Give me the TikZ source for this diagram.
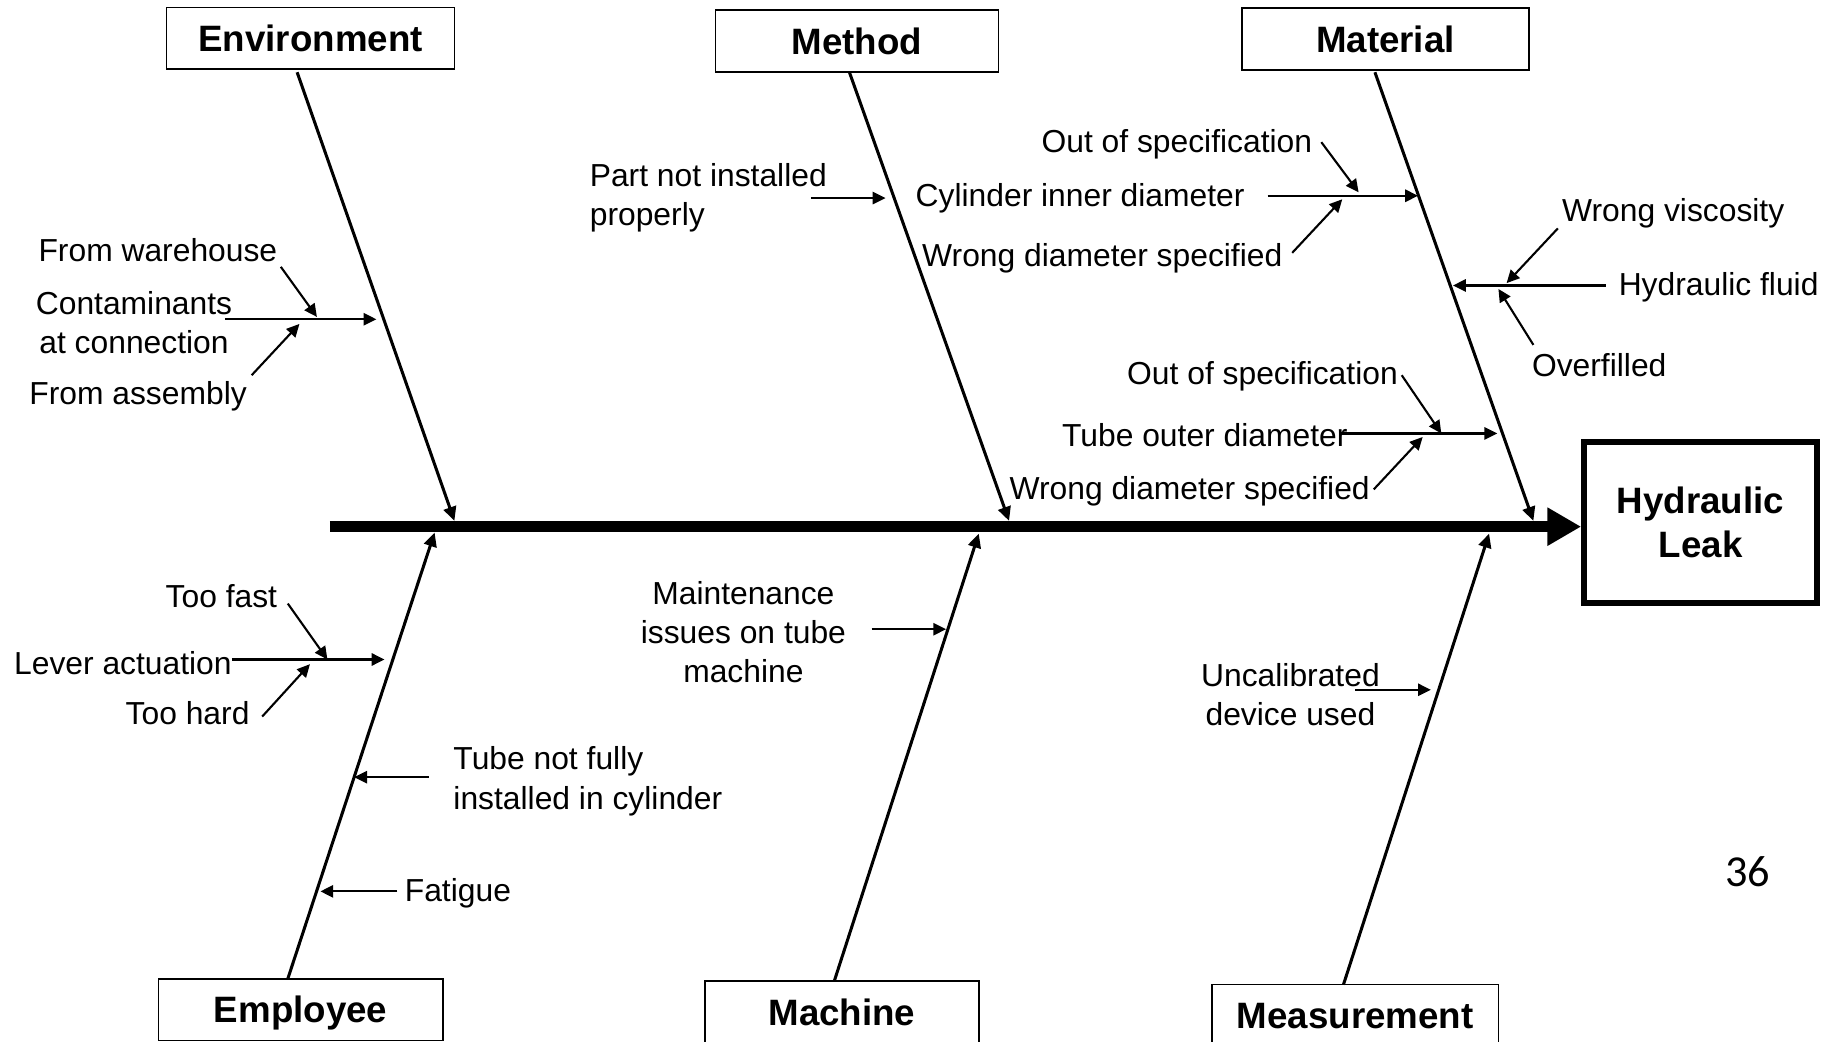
\documentclass[tikz,border=0pt]{standalone}
\usepackage{fontspec}
\setmainfont{Liberation Sans}
\newfontfamily\numfont{Carlito}
\usetikzlibrary{arrows.meta}
\begin{document}
\begin{tikzpicture}[x=1pt,y=-1pt,
 lbl/.style={font=\fontsize{27.3}{33.5}\selectfont, inner sep=0pt, text height=20pt, text depth=0pt},
 ml/.style={font=\fontsize{27.3}{33.5}\selectfont, inner sep=0pt},
 cat/.style={draw, line width=1.5pt, inner sep=0pt, minimum height=53pt, text depth=0pt, font=\bfseries\fontsize{31.5}{38}\selectfont},
 bone/.style={line width=2.6pt, -{Triangle[length=12pt,width=11pt]}},
 sub/.style={line width=1.8pt, -{Triangle[length=11pt,width=10.5pt]}}]
\useasboundingbox (0,0) rectangle (1568,894);

% categories
\node[cat, minimum width=247pt] (env) at (266.5,33) {Environment};
\node[cat, minimum width=243pt] (meth) at (735.5,35) {Method};
\node[cat, minimum width=246pt] (mat) at (1189,33.5) {Material};
\node[cat, minimum width=244pt] (emp) at (258,866.5) {Employee};
\node[cat, minimum width=235pt] (mach) at (722.5,868.5) {Machine};
\node[cat, minimum width=246pt] (meas) at (1163,871.5) {Measurement};
\node[draw, line width=5pt, minimum width=200pt, minimum height=138pt, inner sep=0pt, align=center,
      font=\bfseries\fontsize{31.5}{38}\selectfont] (eff) at (1459.5,448.5) {Hydraulic\\Leak};

% spine
\coordinate (spL) at (283,452);
\draw[line width=10pt, -{Triangle[length=29pt,width=31pt]}] (spL) -- (eff.west |- spL);

% bones
\coordinate (envT) at (255,62);   \coordinate (envE) at (390,447);
\coordinate (methT) at (729,62);  \coordinate (methE) at (866,447);
\coordinate (matT) at (1180,62);  \coordinate (matE) at (1316,447);
\coordinate (empT) at (247,840);  \coordinate (empE) at (373,457);
\coordinate (machT) at (716,842); \coordinate (machE) at (840,458);
\coordinate (measT) at (1153,845);\coordinate (measE) at (1278,458);
\draw[bone] (envT) -- (envE);
\draw[bone] (methT) -- (methE);
\draw[bone] (matT) -- (matE);
\draw[bone] (empT) -- (empE);
\draw[bone] (machT) -- (machE);
\draw[bone] (measT) -- (measE);

% Environment causes
\node[lbl] (fw) at (135.5,214) {From warehouse};
\node[ml, align=center] (cont) at (115,276.5) {Contaminants\\at connection};
\node[lbl] (fa) at (118.5,337) {From assembly};
\coordinate (contS) at (193,274); \coordinate (contE) at (323,274);
\coordinate (fwS) at (241,229);   \coordinate (fwE) at (272,272);
\coordinate (faS) at (216,322);   \coordinate (faE) at (257,278);
\draw[sub] (contS) -- (contE);
\draw[sub] (fwS) -- (fwE);
\draw[sub] (faS) -- (faE);

% Method causes
\node[ml, align=left, anchor=west] (pni) at (506,170) {Part not installed\\properly};
\coordinate (pniS) at (696,170); \coordinate (pniE) at (760,170);
\draw[sub] (pniS) -- (pniE);

% Material causes
\node[lbl] (oos1) at (1010,121) {Out of specification};
\node[lbl] (cid) at (927,167) {Cylinder inner diameter};
\node[lbl] (wds1) at (946,219) {Wrong diameter specified};
\coordinate (cidS) at (1088,168); \coordinate (cidE) at (1217,168);
\coordinate (oos1S) at (1134,122); \coordinate (oos1E) at (1166,165);
\coordinate (wds1S) at (1109,217); \coordinate (wds1E) at (1152,171);
\draw[sub] (cidS) -- (cidE);
\draw[sub] (oos1S) -- (oos1E);
\draw[sub] (wds1S) -- (wds1E);

\node[lbl] (wv) at (1436,180) {Wrong viscosity};
\node[lbl] (hf) at (1475,244) {Hydraulic fluid};
\node[lbl] (ovf) at (1372.5,313) {Overfilled};
\coordinate (hfS) at (1378,245); \coordinate (hfE) at (1247,245);
\coordinate (wvS) at (1337,196); \coordinate (wvE) at (1293,243);
\coordinate (ovfS) at (1316,296); \coordinate (ovfE) at (1286,248);
\draw[sub] (hfS) -- (hfE);
\draw[sub] (wvS) -- (wvE);
\draw[sub] (ovfS) -- (ovfE);

\node[lbl] (oos2) at (1083.5,320) {Out of specification};
\node[lbl] (tod) at (1034,373) {Tube outer diameter};
\node[lbl] (wds2) at (1021,419) {Wrong diameter specified};
\coordinate (todS) at (1150,372); \coordinate (todE) at (1285,372);
\coordinate (oos2S) at (1203,322); \coordinate (oos2E) at (1237,372);
\coordinate (wds2S) at (1179,420); \coordinate (wds2E) at (1221,375);
\draw[sub] (todS) -- (todE);
\draw[sub] (oos2S) -- (oos2E);
\draw[sub] (wds2S) -- (wds2E);

% Employee causes
\node[lbl] (tf) at (190,511) {Too fast};
\node[lbl] (la) at (105.5,569) {Lever actuation};
\node[lbl] (th) at (161,612) {Too hard};
\coordinate (laS) at (199,566); \coordinate (laE) at (330,566);
\coordinate (tfS) at (247,518); \coordinate (tfE) at (281,566);
\coordinate (thS) at (225,615); \coordinate (thE) at (266,570);
\draw[sub] (laS) -- (laE);
\draw[sub] (tfS) -- (tfE);
\draw[sub] (thS) -- (thE);

\node[ml, align=left, anchor=west] (tnf) at (389,670.5) {Tube not fully\\installed in cylinder};
\coordinate (tnfS) at (368,667); \coordinate (tnfE) at (304,667);
\draw[sub] (tnfS) -- (tnfE);

\node[lbl] (fat) at (393,764) {Fatigue};
\coordinate (fatS) at (341,765); \coordinate (fatE) at (275,765);
\draw[sub] (fatS) -- (fatE);

% Machine cause
\node[ml, align=center] (mit) at (638,542.5) {Maintenance\\issues on tube\\machine};
\coordinate (mitS) at (748,540); \coordinate (mitE) at (812,540);
\draw[sub] (mitS) -- (mitE);

% Measurement cause
\node[ml, align=center] (ucd) at (1107.5,596) {Uncalibrated\\device used};
\coordinate (ucdS) at (1163,592); \coordinate (ucdE) at (1228,592);
\draw[sub] (ucdS) -- (ucdE);

% page number
\node[inner sep=0pt, font=\numfont\fontsize{38}{44}\selectfont] (pg) at (1500,748) {36};
\end{tikzpicture}
\end{document}
